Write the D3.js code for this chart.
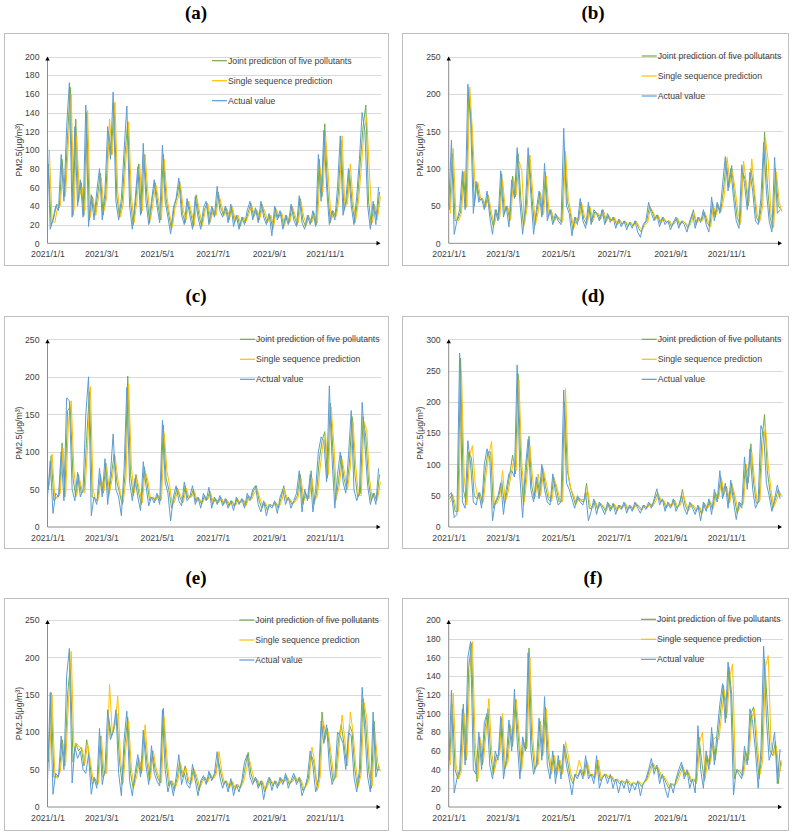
<!DOCTYPE html>
<html><head><meta charset="utf-8">
<script src="https://cdn.jsdelivr.net/npm/d3@7"></script>
<style>body{margin:0;background:#fff}</style>
</head><body>
<svg id="chart" width="793" height="832"></svg>
<script>
// ---------- data ----------
const panelTitles = ["(a)","(b)","(c)","(d)","(e)","(f)"];
const seriesNames = ["Joint prediction of five pollutants","Single sequence prediction","Actual value"];
const yAxisTitle = "PM2.5(μg/m³)";
const xTickLabels = ["2021/1/1","2021/3/1","2021/5/1","2021/7/1","2021/9/1","2021/11/1"];
const startDateLabel = "2021/1/1";
const endDateLabel = "2021/12/31";
const sampleStepDays = 3;            // values read every 3 days
const seriesDayOffset = [1, 2, 0];   // joint, single, actual (predictions lag the actual)

const yTicksA = [0,20,40,60,80,100,120,140,160,180,200];
const yTicksB = [0,50,100,150,200,250];
const yTicksC = [0,50,100,150,200,250];
const yTicksD = [0,50,100,150,200,250,300];
const yTicksE = [0,50,100,150,200,250];
const yTicksF = [0,20,40,60,80,100,120,140,160,180,200];

const aJoint = [85,20,28,42,38,90,50,115,167,30, 133,45,65,30,140,25,50,30,52,75, 30,52,120,95,150,50,28,45,95,130, 45,20,48,85,32,95,50,22,48,65, 42,25,95,48,30,15,40,50,66,32, 22,45,32,18,52,30,18,36,43,22, 38,30,55,38,30,38,25,40,22,30, 18,28,22,33,43,28,36,25,42,30, 22,30,15,38,27,33,18,30,22,40, 27,20,48,25,18,30,22,33,20,90, 50,128,60,22,35,28,55,110,35,45, 78,42,22,48,88,125,148,45,20,42, 25,55];
const aSingle = [100,25,22,38,40,80,55,110,160,35, 115,50,60,35,142,28,48,30,50,70, 35,50,133,95,151,55,28,42,90,130, 50,22,45,85,35,95,55,25,45,62, 45,25,90,50,30,18,38,48,62,35, 25,45,33,20,48,32,20,35,42,25, 36,30,52,40,30,36,28,38,24,30, 20,28,24,32,40,30,35,27,40,32, 24,30,18,36,28,32,20,28,23,38, 28,22,45,28,20,28,23,30,22,80, 55,115,70,25,33,30,50,115,40,42, 85,45,25,45,80,120,135,75,22,40, 28,50];
const aActual = [105,15,25,40,35,95,45,125,172,28, 125,40,68,28,148,18,52,25,55,80, 25,55,125,90,162,45,25,48,100,147, 40,15,45,82,30,107,45,20,45,68, 40,22,105,45,28,10,38,48,70,30, 20,48,30,15,50,28,15,38,45,20, 40,28,61,35,28,40,22,42,18,30, 15,28,20,35,45,25,38,22,45,28, 20,32,8,40,25,35,15,30,20,42, 25,18,51,22,15,30,20,35,18,95, 45,121,60,20,35,25,60,115,30,45, 80,40,20,50,90,140,120,40,15,45, 20,60];

const bJoint = [45,120,30,32,42,95,48,200,160,50, 80,58,60,48,65,38,22,45,32,93, 40,50,30,90,62,120,60,22,50,118, 65,22,45,68,38,95,35,45,28,38, 32,28,123,55,42,18,35,30,55,32, 25,50,28,42,40,32,45,28,38,30, 35,24,32,25,30,22,28,23,30,20, 15,25,30,50,42,32,38,26,35,28, 30,22,28,34,24,30,27,20,30,45, 25,35,30,42,28,22,55,35,52,42, 72,110,75,104,65,35,25,95,85,50, 100,75,35,28,55,149,80,35,20,100, 50,45];
const bSingle = [40,127,35,30,40,97,50,209,150,75, 82,60,58,50,62,40,25,42,35,85, 45,48,32,88,65,110,98,25,48,118, 70,25,42,65,40,90,40,42,30,36, 33,30,123,60,40,20,33,32,52,35, 28,48,30,40,40,33,42,30,36,30, 34,25,30,26,29,24,27,24,28,22, 18,24,28,48,42,33,36,28,33,29, 30,24,27,33,25,29,27,22,28,40, 27,33,30,40,30,22,50,38,50,45, 65,115,80,95,70,40,28,110,80,55, 113,70,38,30,50,140,110,40,22,95, 55,42];
const bActual = [50,138,12,30,45,97,45,213,165,40, 83,55,60,45,70,35,12,45,30,97, 35,50,22,85,60,128,55,12,50,128, 65,12,45,70,35,107,30,45,25,40, 30,25,154,50,40,10,35,25,60,30, 20,55,25,45,40,30,45,25,40,28, 35,20,32,22,30,18,28,20,30,15, 8,25,30,55,40,30,38,22,35,25, 30,18,28,35,20,30,25,15,30,40, 20,35,28,45,25,15,62,30,55,40, 79,116,70,100,60,30,20,105,80,45, 95,70,30,25,60,135,70,30,15,115, 40,45];

const cJoint = [50,95,35,40,42,112,40,155,160,65, 40,70,45,48,120,180,40,38,35,70, 45,85,40,68,97,60,45,30,70,201, 70,42,70,45,30,80,60,35,40,35, 42,35,136,65,50,25,38,52,40,32, 55,38,40,50,33,38,30,42,36,48, 30,38,32,40,30,37,28,35,27,38, 32,37,28,42,38,48,55,35,25,33, 22,30,28,33,25,38,55,35,38,30, 35,42,70,30,45,38,75,30,45,90, 115,127,65,165,100,35,60,95,65,50, 85,147,70,40,45,147,120,60,35,45, 35,70];
const cSingle = [55,97,40,38,45,105,45,140,168,75, 42,65,48,45,110,187,50,35,38,65, 48,80,45,65,95,65,45,32,65,190, 80,45,65,48,32,75,62,38,40,36, 42,36,125,74,55,28,36,50,42,33, 52,40,40,48,35,37,32,40,37,45, 32,37,33,38,31,36,29,34,28,36, 32,36,29,40,37,45,50,38,27,32, 25,29,28,32,26,36,50,36,37,31, 34,40,65,35,42,38,65,35,42,80, 110,120,70,160,110,40,55,90,70,50, 80,140,80,42,42,140,130,65,38,42, 38,60];
const cActual = [40,88,18,45,40,100,35,172,168,50, 35,73,40,50,150,200,15,40,30,78, 40,91,30,70,124,50,40,15,78,186, 60,35,65,40,22,87,55,28,40,32, 45,30,142,60,45,8,40,55,35,28, 60,35,40,55,30,40,25,45,35,53, 25,40,30,42,28,38,25,35,22,40, 30,38,25,45,35,50,55,30,20,35, 15,30,25,35,18,40,50,30,40,25, 35,45,75,20,50,35,70,20,50,100, 120,115,60,188,90,25,70,100,60,45, 95,155,50,35,45,166,110,55,30,45, 30,78];

const dJoint = [45,52,25,25,270,60,40,120,110,50, 45,55,38,90,120,120,30,40,50,75, 35,58,85,115,85,245,100,35,90,145, 65,45,78,50,95,65,45,40,80,60, 40,42,200,90,65,50,35,48,42,40, 70,30,30,42,28,38,32,25,38,28, 37,25,35,30,38,27,34,28,38,32, 27,35,30,38,33,45,55,40,43,30, 38,33,43,30,36,60,35,25,38,32, 25,33,20,38,30,42,28,55,45,80, 50,65,38,70,45,22,38,35,100,70, 133,70,38,40,140,180,90,55,30,45, 60,50];
const dSingle = [40,50,30,25,250,80,35,115,130,70, 45,50,40,85,115,137,35,38,48,90, 40,55,80,105,90,235,105,40,85,130, 75,48,85,52,90,70,48,42,75,62, 42,40,221,85,60,50,38,45,44,42, 60,35,30,40,30,37,33,27,37,30, 36,27,34,31,37,28,33,29,37,33, 28,34,31,37,34,42,52,42,42,32, 37,34,42,32,35,52,37,27,37,33, 27,32,22,36,31,40,30,50,48,75, 55,62,40,65,48,25,35,38,100,80, 120,75,40,42,130,160,100,60,32,42, 55,50];
const dActual = [50,55,15,20,278,40,30,138,100,40, 35,55,30,100,125,110,10,40,50,70, 20,60,85,90,80,259,80,15,95,140, 60,40,80,45,100,60,40,35,85,55, 35,40,219,70,60,45,30,50,40,35, 55,10,25,45,20,40,30,20,40,25, 38,20,35,28,40,22,35,25,40,30, 22,35,28,40,30,45,61,35,45,25, 40,30,45,25,35,50,30,20,40,30, 20,35,10,40,25,45,20,60,40,90, 45,70,30,75,40,12,40,30,112,60, 125,60,30,40,162,150,70,50,25,45, 67,45];

const eJoint = [60,153,40,40,45,90,55,150,190,60, 85,75,80,55,90,65,30,38,30,95, 40,48,120,95,105,125,60,30,85,120, 45,25,45,65,45,100,60,35,75,50, 38,32,132,60,28,35,22,38,60,40, 55,33,30,52,38,22,35,40,33,45, 37,45,65,45,30,35,25,35,22,30, 25,35,55,73,45,33,38,28,35,20, 30,38,28,35,28,38,33,42,30,35, 42,33,38,22,28,38,70,60,30,40, 127,90,105,65,35,40,90,110,85,55, 110,100,50,25,48,145,110,50,25,115, 50,50];
const eSingle = [50,150,45,38,48,85,60,140,208,80, 85,80,78,58,85,62,35,35,32,95, 45,45,164,100,110,148,65,32,80,115, 50,28,42,62,48,110,62,38,75,52, 40,33,120,65,30,35,25,36,58,42, 52,35,32,50,40,25,34,40,34,43, 38,44,74,48,32,34,27,34,24,30, 26,34,50,65,50,35,37,30,34,22, 30,36,30,34,29,37,34,40,32,34, 40,35,37,25,28,36,80,60,22,40, 115,100,100,70,38,40,85,123,90,55, 127,100,55,28,45,140,120,55,28,100, 60,48];
const eActual = [35,153,17,45,40,95,50,175,212,32, 80,65,75,50,45,70,17,40,25,105, 30,50,130,90,100,130,45,15,90,128, 35,15,45,70,40,103,55,30,82,45, 35,28,130,50,20,35,15,40,70,30, 45,30,25,57,35,15,35,42,30,48, 35,45,74,40,25,35,20,38,15,30, 20,35,60,70,40,30,40,25,35,10, 30,40,22,35,25,40,30,45,25,35, 45,30,40,15,25,40,75,55,20,35, 115,85,110,55,30,40,100,95,85,50, 100,95,40,20,50,160,100,40,20,127, 40,55];

const fJoint = [50,110,40,30,40,110,50,150,175,60, 27,75,45,85,105,55,35,55,55,95, 40,50,88,65,115,78,38,70,62,170, 70,40,45,92,55,107,55,35,55,32, 50,35,65,50,33,25,35,33,40,33, 50,33,35,30,50,28,33,35,30,33, 27,30,25,28,25,28,23,26,24,27, 22,26,30,40,47,40,42,30,33,26, 20,25,22,30,38,45,33,38,27,30, 25,75,50,28,55,45,78,50,75,105, 130,95,150,120,30,40,38,33,60,50, 100,107,65,30,55,158,110,60,55,70, 25,50];
const fSingle = [45,122,45,30,38,100,55,140,177,70, 30,72,48,80,116,60,38,52,57,100, 42,48,85,70,115,80,40,68,64,160, 75,42,45,88,58,105,58,37,55,35, 50,36,70,55,35,28,37,50,40,34, 48,35,35,32,50,30,35,35,32,33, 28,30,27,28,26,28,25,26,25,27, 24,26,30,38,47,42,42,33,33,28, 22,25,23,28,36,42,35,37,28,30, 27,70,80,30,52,48,72,75,72,100, 125,100,140,153,40,38,40,35,55,55, 95,105,70,35,50,150,162,70,55,65, 35,48];
const fActual = [40,125,15,30,40,105,45,160,177,40, 35,80,40,90,100,45,30,60,50,97, 30,50,93,60,126,70,30,75,60,165, 60,35,45,95,50,118,45,30,60,25, 55,30,67,45,30,13,35,30,40,30, 55,30,35,25,55,20,30,35,25,35, 20,30,15,28,20,30,15,25,18,28, 12,25,30,40,52,35,45,25,35,20, 10,25,15,30,40,48,30,40,20,30, 15,87,40,20,60,40,85,45,80,110, 132,90,155,120,13,40,35,30,65,45, 105,90,60,20,60,172,95,50,60,80, 25,62];

// ---------- layout / style ----------
const panels = [
  {ticks: yTicksA, series: [aJoint, aSingle, aActual]},
  {ticks: yTicksB, series: [bJoint, bSingle, bActual]},
  {ticks: yTicksC, series: [cJoint, cSingle, cActual]},
  {ticks: yTicksD, series: [dJoint, dSingle, dActual]},
  {ticks: yTicksE, series: [eJoint, eSingle, eActual]},
  {ticks: yTicksF, series: [fJoint, fSingle, fActual]}
];
const seriesColors = ["#70ad47", "#ffc000", "#5b9bd5"];
const cols = [
  {box: [4, 388], axis: 47.5, right: 379.5, titleX: 196},
  {box: [402, 788], axis: 448.7, right: 781, titleX: 593}
];
const rows = [
  {box: [33, 265], top: 56.5, bottom: 243.3, titleY: 18.5, xlab: 257.2},
  {box: [316, 548], top: 339.3, bottom: 527, titleY: 301.5, xlab: 541},
  {box: [598, 830], top: 620, bottom: 807, titleY: 583.5, xlab: 821}
];
const legendPos = [[212, 60.7], [641.7, 56], [240, 339.3], [641.7, 339.3], [239.3, 620], [641, 619.3]];
const FONT = "'Liberation Sans', Arial, sans-serif";
const FS = 8.7;
const TXT = "#404040";

const svg = d3.select("#chart");
const parse = d3.utcParse("%Y/%m/%d");
const t0 = parse(startDateLabel), t1 = parse(endDateLabel);
const DAY = 864e5;

panels.forEach((p, k) => {
  const C = cols[k % 2], R = rows[Math.floor(k / 2)];
  const g = svg.append("g");

  g.append("rect")
    .attr("x", C.box[0] + 0.5).attr("y", R.box[0] + 0.5)
    .attr("width", C.box[1] - C.box[0]).attr("height", R.box[1] - R.box[0])
    .attr("fill", "none").attr("stroke", "#bfbfbf").attr("stroke-width", 1);

  g.append("text").text(panelTitles[k])
    .attr("x", C.titleX).attr("y", R.titleY)
    .attr("text-anchor", "middle")
    .attr("font-family", "'Liberation Serif', 'Times New Roman', serif")
    .attr("font-weight", "bold").attr("font-size", 19).attr("fill", "#000");

  const x = d3.scaleUtc().domain([t0, t1]).range([C.axis, C.right]);
  const y = d3.scaleLinear().domain([0, d3.max(p.ticks)]).range([R.bottom, R.top]);

  // gridlines
  g.append("g").selectAll("line").data(p.ticks.filter(v => v > 0)).join("line")
    .attr("x1", C.axis).attr("x2", C.right + 2)
    .attr("y1", d => Math.round(y(d)) + 0.5).attr("y2", d => Math.round(y(d)) + 0.5)
    .attr("stroke", "#d9d9d9").attr("stroke-width", 1);

  // y axis labels
  const ya = g.append("g").attr("transform", `translate(${C.axis},0)`)
    .call(d3.axisLeft(y).tickValues(p.ticks).tickSize(0).tickPadding(8));
  ya.select(".domain").remove();
  ya.selectAll("text").attr("font-family", FONT).attr("font-size", FS).attr("fill", TXT);

  // x axis labels (baseline at R.xlab)
  const xa = g.append("g").attr("transform", `translate(0,${R.xlab})`)
    .call(d3.axisBottom(x).tickValues(xTickLabels.map(parse))
      .tickFormat((d, i) => xTickLabels[i]).tickSize(0).tickPadding(0));
  xa.select(".domain").remove();
  xa.selectAll("text").attr("y", 0).attr("dy", null)
    .attr("font-family", FONT).attr("font-size", FS).attr("fill", TXT);

  // y axis title
  g.append("text").text(yAxisTitle)
    .attr("transform", `translate(${C.axis - 29},${(R.top + R.bottom) / 2}) rotate(-90)`)
    .attr("text-anchor", "middle").attr("dy", "0.35em")
    .attr("font-family", FONT).attr("font-size", FS).attr("fill", TXT);

  // series lines
  const line = d3.line().x(d => x(d.date)).y(d => y(d.v));
  p.series.forEach((vals, j) => {
    const pts = vals.map((v, i) => ({
      date: new Date(t0.getTime() + (seriesDayOffset[j] + i * sampleStepDays) * DAY), v
    }));
    g.append("path").attr("d", line(pts))
      .attr("fill", "none").attr("stroke", seriesColors[j])
      .attr("stroke-width", 1).attr("stroke-linejoin", "round");
  });

  // axis lines with arrows
  g.append("line").attr("x1", C.axis).attr("x2", C.axis)
    .attr("y1", R.bottom).attr("y2", R.top + 3)
    .attr("stroke", "#8c8c8c").attr("stroke-width", 1);
  g.append("path")
    .attr("d", `M${C.axis},${R.top} L${C.axis - 2.2},${R.top + 4} L${C.axis + 2.2},${R.top + 4} Z`)
    .attr("fill", "#000");
  g.append("line").attr("x1", C.axis).attr("x2", C.right - 2)
    .attr("y1", R.bottom).attr("y2", R.bottom)
    .attr("stroke", "#8c8c8c").attr("stroke-width", 1);
  g.append("path")
    .attr("d", `M${C.right + 1},${R.bottom} L${C.right - 3},${R.bottom - 2.2} L${C.right - 3},${R.bottom + 2.2} Z`)
    .attr("fill", "#000");

  // legend
  const [lx, ly] = legendPos[k];
  seriesNames.forEach((name, j) => {
    const yy = ly + j * 20;
    g.append("line").attr("x1", lx).attr("x2", lx + 15).attr("y1", yy).attr("y2", yy)
      .attr("stroke", seriesColors[j]).attr("stroke-width", 1.2);
    g.append("text").text(name).attr("x", lx + 16).attr("y", yy).attr("dy", "0.35em")
      .attr("font-family", FONT).attr("font-size", FS).attr("fill", TXT);
  });
});
</script>
</body></html>
